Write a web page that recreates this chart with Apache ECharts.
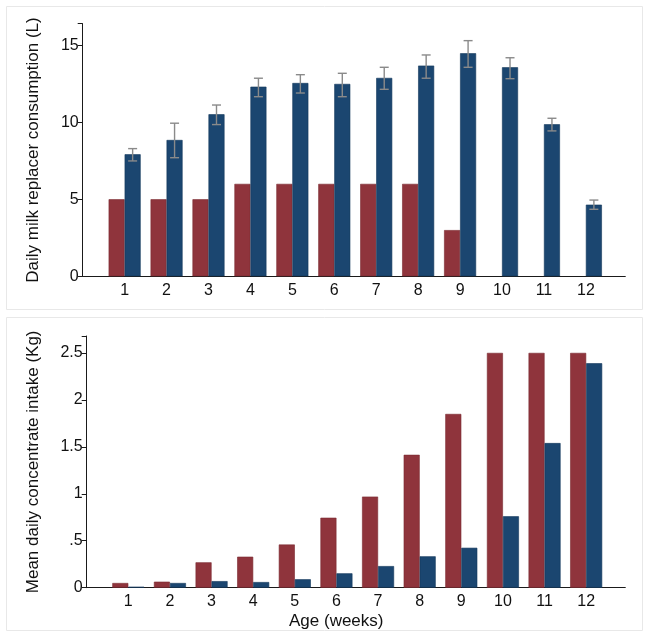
<!DOCTYPE html>
<html>
<head>
<meta charset="utf-8">
<script src="https://cdn.jsdelivr.net/npm/echarts@6/dist/echarts.min.js"></script>
<style>
html,body{margin:0;padding:0;background:#fff;}
#c{width:650px;height:639px;}
</style>
</head>
<body>
<div id="c"></div>
<script>
// ---- data ----
var weeks = [1,2,3,4,5,6,7,8,9,10,11,12];
var weekLabels = ['1','2','3','4','5','6','7','8','9','10','11','12'];
// Top panel: daily milk replacer consumption (L)
var milkRed = [5,5,5,6,6,6,6,6,3,null,null,null];
var milkBlue = [7.92,8.85,10.52,12.31,12.55,12.49,12.88,13.68,14.48,13.57,9.87,4.65];
var milkBlueLow = [7.49,7.70,9.85,11.66,11.90,11.66,12.14,12.86,13.57,12.83,9.44,4.35];
var milkBlueHigh = [8.29,9.94,11.12,12.86,13.09,13.18,13.57,14.37,15.30,14.19,10.26,4.95];
// Bottom panel: mean daily concentrate intake (Kg)
var concRed = [0.05,0.064,0.27,0.33,0.46,0.745,0.97,1.415,1.85,2.5,2.5,2.5];
var concBlue = [0.01,0.05,0.07,0.06,0.09,0.153,0.23,0.334,0.425,0.76,1.54,2.39];
var topTicks = [0,5,10,15];
var bottomTickLabels = {'0':'0','0.5':'.5','1':'1','1.5':'1.5','2':'2','2.5':'2.5'};

var RED = '#8f343c', BLUE = '#1b4670';
var FONT = '"Liberation Sans", Arial, sans-serif';
var BW = 16;

function pairs(xs, ys){ return xs.map(function(x,i){ return [x, ys[i] == null ? '-' : ys[i]]; }); }

function xAxisCfg(gi){
  return {
    gridIndex: gi, type:'value', min:0, max:12.94, interval:1,
    axisLine:{show:true, lineStyle:{color:'#1a1a1a', width:1}},
    axisTick:{show:false}, splitLine:{show:false},
    axisLabel:{fontFamily:FONT, fontSize:16, color:'#111', margin:6,
      formatter:function(v){ var i = weeks.indexOf(v); return i>=0 ? weekLabels[i] : ''; }},
    showMaxLabel:false
  };
}

var chart = echarts.init(document.getElementById('c'), null, {renderer:'canvas'});
chart.setOption({
  animation:false,
  backgroundColor:'#fff',
  graphic:[
    {type:'rect', shape:{x:6.5,y:6.5,width:636,height:303}, style:{fill:'none', stroke:'#e8e8e8', lineWidth:1}, silent:true, z:-1},
    {type:'rect', shape:{x:6.5,y:317.5,width:636,height:313}, style:{fill:'none', stroke:'#e8e8e8', lineWidth:1}, silent:true, z:-1},
    {type:'text', left:289, top:613, style:{text:'Age (weeks)', font:'17px "Liberation Sans", Arial, sans-serif', fill:'#111'}}
  ],
  grid:[
    {left:82.7, right:24.7, top:23.7, height:252.6},
    {left:86.7, right:24.7, top:336, height:251.7}
  ],
  xAxis:[xAxisCfg(0), xAxisCfg(1)],
  yAxis:[
    {gridIndex:0, type:'value', min:0, max:16.4, interval:5,
     name:'Daily milk replacer consumption (L)', nameLocation:'middle', nameGap:41,
     nameTextStyle:{fontFamily:FONT, fontSize:17, color:'#111'},
     axisLine:{show:true, lineStyle:{color:'#1a1a1a'}},
     axisTick:{show:true, length:5, lineStyle:{color:'#1a1a1a'}},
     splitLine:{show:false}, showMaxLabel:false,
     axisLabel:{fontFamily:FONT, fontSize:16, color:'#111', margin:4,
       formatter:function(v){ return topTicks.indexOf(v)>=0 ? String(v) : ''; }}},
    {gridIndex:1, type:'value', min:0, max:2.68, interval:0.5,
     name:'Mean daily concentrate intake (Kg)', nameLocation:'middle', nameGap:45,
     nameTextStyle:{fontFamily:FONT, fontSize:17, color:'#111'},
     axisLine:{show:true, lineStyle:{color:'#1a1a1a'}},
     axisTick:{show:true, length:5, lineStyle:{color:'#1a1a1a'}},
     splitLine:{show:false}, showMaxLabel:false,
     axisLabel:{fontFamily:FONT, fontSize:16, color:'#111', margin:4,
       formatter:function(v){ var k = String(Math.round(v*10)/10); return bottomTickLabels[k] || ''; }}}
  ],
  series:[
    {type:'bar', xAxisIndex:0, yAxisIndex:0, data:pairs(weeks, milkRed), barWidth:BW, barGap:'0%',
     itemStyle:{color:RED, borderColor:'#7a2a31', borderWidth:0.6}},
    {type:'bar', xAxisIndex:0, yAxisIndex:0, data:pairs(weeks, milkBlue), barWidth:BW, barGap:'0%',
     itemStyle:{color:BLUE, borderColor:'#13385a', borderWidth:0.6}},
    {type:'custom', xAxisIndex:0, yAxisIndex:0, z:5,
     data: weeks.map(function(w,i){ return [w, milkBlueLow[i], milkBlueHigh[i]]; }),
     renderItem:function(params, api){
       var lo = api.coord([api.value(0), api.value(1)]);
       var hi = api.coord([api.value(0), api.value(2)]);
       var x = lo[0] + BW/2, cap = 4.5;
       var st = {stroke:'#8a8a8a', lineWidth:1.4};
       return {type:'group', children:[
         {type:'line', shape:{x1:x, y1:lo[1], x2:x, y2:hi[1]}, style:st},
         {type:'line', shape:{x1:x-cap, y1:lo[1], x2:x+cap, y2:lo[1]}, style:st},
         {type:'line', shape:{x1:x-cap, y1:hi[1], x2:x+cap, y2:hi[1]}, style:st}
       ]};
     }},
    {type:'bar', xAxisIndex:1, yAxisIndex:1, data:pairs(weeks, concRed), barWidth:BW, barGap:'0%',
     itemStyle:{color:RED, borderColor:'#7a2a31', borderWidth:0.6}},
    {type:'bar', xAxisIndex:1, yAxisIndex:1, data:pairs(weeks, concBlue), barWidth:BW, barGap:'0%',
     itemStyle:{color:BLUE, borderColor:'#13385a', borderWidth:0.6}}
  ]
});
</script>
</body>
</html>
